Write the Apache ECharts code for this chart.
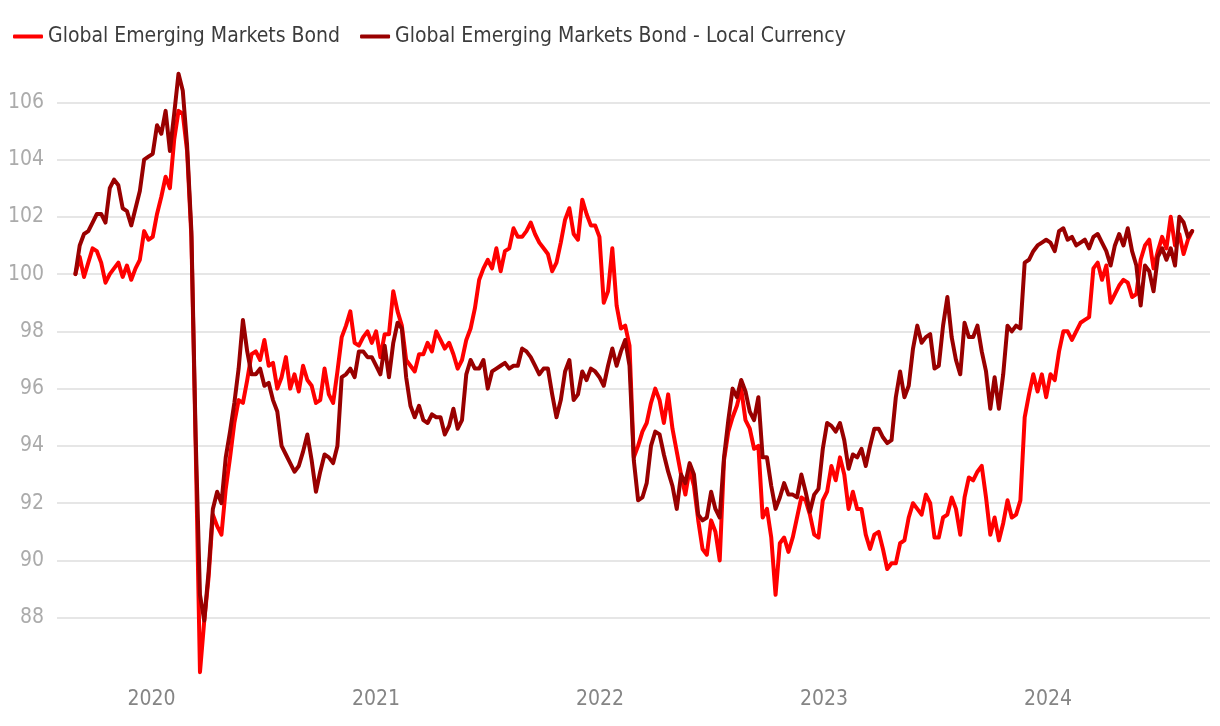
<!DOCTYPE html>
<html>
<head>
<meta charset="utf-8">
<script src="https://cdn.jsdelivr.net/npm/echarts@6/dist/echarts.min.js"></script>
<style>
html,body{margin:0;padding:0;background:#fff;}
#chart{width:1220px;height:726px;}
</style>
</head>
<body>
<div id="chart"></div>
<script>
// Weekly observations starting 2019-08-30
const startDate = '2019-08-30';
const seriesNames = ['Global Emerging Markets Bond', 'Global Emerging Markets Bond - Local Currency'];
const yearLabels = ['2020', '2021', '2022', '2023', '2024'];

const emBond = [
100.0,100.6,99.9,100.4,100.9,100.8,100.4,99.7,100.0,100.2,
100.4,99.9,100.3,99.8,100.2,100.5,101.5,101.2,101.3,102.1,
102.7,103.4,103.0,104.7,105.7,105.6,104.3,101.3,94.0,86.1,
87.9,89.4,91.6,91.2,90.9,92.5,93.6,94.8,95.6,95.5,
96.3,97.2,97.3,97.0,97.7,96.8,96.9,96.0,96.4,97.1,
96.0,96.5,95.9,96.8,96.3,96.1,95.5,95.6,96.7,95.8,
95.5,96.6,97.8,98.2,98.7,97.6,97.5,97.8,98.0,97.6,
98.0,97.1,97.9,97.9,99.4,98.7,98.2,97.0,96.8,96.6,
97.2,97.2,97.6,97.3,98.0,97.7,97.4,97.6,97.2,96.7,
97.0,97.7,98.1,98.8,99.8,100.2,100.5,100.2,100.9,100.1,
100.8,100.9,101.6,101.3,101.3,101.5,101.8,101.4,101.1,100.9,
100.7,100.1,100.4,101.1,101.9,102.3,101.4,101.2,102.6,102.1,
101.7,101.7,101.3,99.0,99.4,100.9,98.9,98.1,98.2,97.5,
93.6,94.0,94.5,94.8,95.5,96.0,95.6,94.8,95.8,94.6,
93.8,93.0,92.3,93.2,92.6,91.4,90.4,90.2,91.4,91.0,
90.0,93.5,94.5,95.0,95.4,96.0,94.9,94.6,93.9,94.0,
91.5,91.8,90.8,88.8,90.6,90.8,90.3,90.8,91.5,92.2,
92.1,91.6,90.9,90.8,92.1,92.4,93.3,92.8,93.6,93.0,
91.8,92.4,91.8,91.8,90.9,90.4,90.9,91.0,90.4,89.7,
89.9,89.9,90.6,90.7,91.5,92.0,91.8,91.6,92.3,92.0,
90.8,90.8,91.5,91.6,92.2,91.8,90.9,92.2,92.9,92.8,
93.1,93.3,92.2,90.9,91.5,90.7,91.3,92.1,91.5,91.6,
92.1,95.0,95.8,96.5,95.9,96.5,95.7,96.5,96.3,97.3,
98.0,98.0,97.7,98.0,98.3,98.4,98.5,100.2,100.4,99.8,
100.3,99.0,99.3,99.6,99.8,99.7,99.2,99.3,100.5,101.0,
101.2,100.2,100.8,101.3,100.9,102.0,101.0,101.4,100.7,101.2,
101.5
];

const emBondLocal = [
100.0,101.0,101.4,101.5,101.8,102.1,102.1,101.8,103.0,103.3,
103.1,102.3,102.2,101.7,102.3,102.9,104.0,104.1,104.2,105.2,
104.9,105.7,104.3,105.6,107.0,106.4,104.5,101.5,94.3,88.8,
87.9,89.6,91.8,92.4,92.0,93.6,94.5,95.5,96.7,98.4,
97.3,96.5,96.5,96.7,96.1,96.2,95.6,95.2,94.0,93.7,
93.4,93.1,93.3,93.8,94.4,93.5,92.4,93.1,93.7,93.6,
93.4,94.0,96.4,96.5,96.7,96.4,97.3,97.3,97.1,97.1,
96.8,96.5,97.5,96.4,97.6,98.3,98.1,96.4,95.4,95.0,
95.4,94.9,94.8,95.1,95.0,95.0,94.4,94.7,95.3,94.6,
94.9,96.5,97.0,96.7,96.7,97.0,96.0,96.6,96.7,96.8,
96.9,96.7,96.8,96.8,97.4,97.3,97.1,96.8,96.5,96.7,
96.7,95.8,95.0,95.6,96.6,97.0,95.6,95.8,96.6,96.3,
96.7,96.6,96.4,96.1,96.8,97.4,96.8,97.3,97.7,96.8,
93.5,92.1,92.2,92.7,94.0,94.5,94.4,93.7,93.1,92.6,
91.8,93.0,92.7,93.4,93.0,91.6,91.4,91.5,92.4,91.8,
91.5,93.6,94.9,96.0,95.7,96.3,95.9,95.2,94.9,95.7,
93.6,93.6,92.6,91.8,92.2,92.7,92.3,92.3,92.2,93.0,
92.4,91.7,92.3,92.5,93.9,94.8,94.7,94.5,94.8,94.2,
93.2,93.7,93.6,93.9,93.3,94.0,94.6,94.6,94.3,94.1,
94.2,95.7,96.6,95.7,96.1,97.4,98.2,97.6,97.8,97.9,
96.7,96.8,98.2,99.2,97.8,97.0,96.5,98.3,97.8,97.8,
98.2,97.3,96.6,95.3,96.4,95.3,96.5,98.2,98.0,98.2,
98.1,100.4,100.5,100.8,101.0,101.1,101.2,101.1,100.8,101.5,
101.6,101.2,101.3,101.0,101.1,101.2,100.9,101.3,101.4,101.1,
100.8,100.3,101.0,101.4,101.0,101.6,100.8,100.3,98.9,100.3,
100.1,99.4,100.6,100.9,100.5,100.9,100.3,102.0,101.8,101.3,
101.5
];

// weekly date categories
const dates = [];
(function(){
  const d0 = new Date(startDate + 'T00:00:00Z').getTime();
  for (let i = 0; i < emBond.length; i++) dates.push(d0 + i * 7 * 86400000);
})();

const pairs = arr => arr.map((v, i) => [dates[i], v]);

const chart = echarts.init(document.getElementById('chart'), null, {renderer: 'canvas'});
const labelFont = "'DejaVu Sans Condensed', 'Liberation Sans Narrow', sans-serif";
const DAY = 86400000;

chart.setOption({
  animation: false,
  backgroundColor: '#ffffff',
  legend: {
    left: 8,
    top: 21,
    itemWidth: 30,
    itemHeight: 4,
    itemGap: 20,
    icon: 'roundRect',
    textStyle: { fontFamily: labelFont, fontSize: 21, color: '#3c3c3c' },
    data: seriesNames
  },
  grid: { left: 57, right: 10, top: 45, bottom: 51, containLabel: false },
  xAxis: {
    type: 'time',
    min: Date.UTC(2019, 6, 31),
    max: Date.UTC(2024, 8, 21),
    minInterval: 365 * DAY,
    maxInterval: 366 * DAY,
    axisLine: { show: false },
    axisTick: { show: false },
    splitLine: { show: false },
    axisLabel: {
      color: '#858585',
      fontFamily: labelFont,
      fontSize: 21,
      margin: 14,
      showMinLabel: false,
      showMaxLabel: false,
      formatter: function (val) {
        const d = new Date(val);
        const y = String(d.getUTCFullYear());
        return yearLabels.indexOf(y) >= 0 && d.getUTCMonth() === 0 ? y : '';
      }
    }
  },
  yAxis: {
    type: 'value',
    min: 86,
    max: 108,
    interval: 2,
    axisLine: { show: false },
    axisTick: { show: false },
    axisLabel: {
      color: '#ababab',
      fontFamily: labelFont,
      fontSize: 21,
      margin: 13,
      showMinLabel: false,
      showMaxLabel: false
    },
    splitLine: {
      show: true,
      showMinLine: false,
      showMaxLine: false,
      lineStyle: { color: '#e6e6e6', width: 2 }
    }
  },
  series: [
    {
      name: seriesNames[0],
      type: 'line',
      data: pairs(emBond),
      showSymbol: false,
      symbol: 'none',
      color: '#ff0000',
      lineStyle: { width: 4, color: '#ff0000', cap: 'round', join: 'round' }
    },
    {
      name: seriesNames[1],
      type: 'line',
      data: pairs(emBondLocal),
      showSymbol: false,
      symbol: 'none',
      color: '#990000',
      lineStyle: { width: 4, color: '#990000', cap: 'round', join: 'round' }
    }
  ]
});
</script>
</body>
</html>
